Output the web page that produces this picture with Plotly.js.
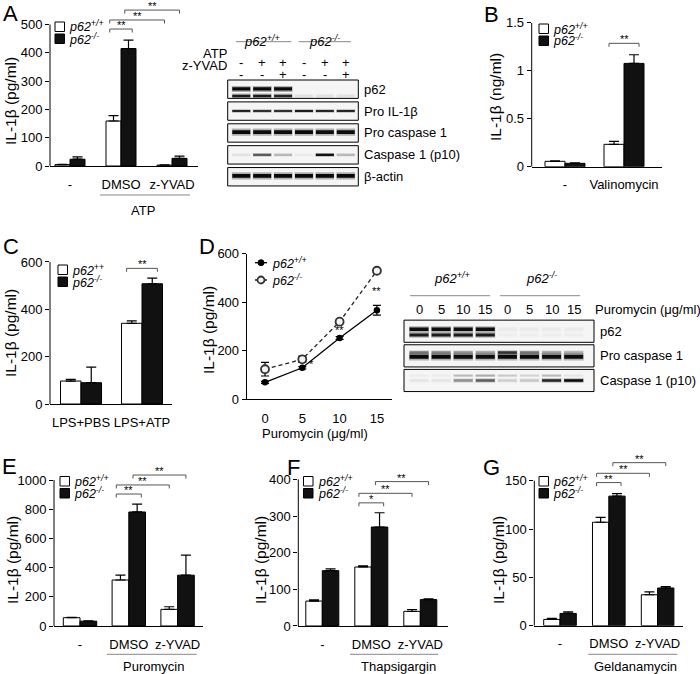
<!DOCTYPE html>
<html><head><meta charset="utf-8">
<script src="https://cdn.plot.ly/plotly-3.0.1.min.js"></script>
<style>html,body{margin:0;padding:0;background:#fff}</style>
</head><body><div id="chart" style="width:700px;height:674px"></div>
<script>
// ================= DATA =================
const wtName = 'p62<sup>+/+</sup>';
const koName = 'p62<sup>-/-</sup>';
const wtNameC = 'p62<sup>++</sup>';
const yTitle = 'IL-1β (pg/ml)';

// Panel A
const catsA = ['-', 'DMSO', 'z-YVAD'];
const wtA = [5, 159, 3];
const wtErrA = [1, 19, 1];
const koA = [24, 415, 27];
const koErrA = [8, 30, 8];
const ticksA = [0, 100, 200, 300, 400, 500];
const sigA = [[2, 3, 484, '**'], [2, 4, 516, '**'], [3, 5, 551, '**']];

// Panel B
const catsB = ['-', 'Valinomycin'];
const wtB = [0.056, 0.233];
const wtErrB = [0.006, 0.031];
const koB = [0.035, 1.076];
const koErrB = [0.004, 0.09];
const ticksB = [0, 0.5, 1, 1.5];
const sigB = [[2, 3, 1.285, '**']];

// Panel C
const catsC = ['LPS+PBS', 'LPS+ATP'];
const wtC = [97, 341];
const wtErrC = [7, 10];
const koC = [90, 508];
const koErrC = [66, 24];
const ticksC = [0, 200, 400, 600];
const sigC = [[2, 3, 573, '**']];

// Panel D (line chart)
const doseD = [0, 5, 10, 15];
const wtD = [70, 130, 253, 367];
const wtErrD = [4, 5, 6, 20];
const koD = [124, 165, 320, 530];
const koErrD = [28, 13, 6, 5];
const sigD = ['', '*', '**', '**'];
const ticksDy = [0, 200, 400, 600];

// Panel E
const catsE = ['-', 'DMSO', 'z-YVAD'];
const wtE = [57, 315, 114];
const wtErrE = [3, 33, 18];
const koE = [33, 781, 348];
const koErrE = [3, 54, 137];
const ticksE = [0, 200, 400, 600, 800, 1000];
const sigE = [[2, 3, 904, '**'], [2, 4, 966, '**'], [3, 5, 1034, '**']];

// Panel F
const catsF = ['-', 'DMSO', 'z-YVAD'];
const wtF = [68, 161, 40];
const wtErrF = [3, 3, 5];
const koF = [151, 270, 72];
const koErrF = [5, 39, 2];
const ticksF = [0, 100, 200, 300, 400];
const sigF = [[2, 3, 336, '*'], [2, 4, 362, '**'], [3, 5, 394, '**']];

// Panel G
const catsG = ['-', 'DMSO', 'z-YVAD'];
const wtG = [6.5, 107, 32];
const wtErrG = [1, 5, 3];
const koG = [12.7, 134, 39];
const koErrG = [1.5, 2.5, 1.5];
const ticksG = [0, 50, 100, 150];
const sigG = [[2, 3, 148, '**'], [2, 4, 157.6, '**'], [3, 5, 168.6, '**']];

// Western blot A (6 lanes)
const blotA_atp = ['-', '+', '+', '-', '+', '+'];
const blotA_zyvad = ['-', '-', '+', '-', '-', '+'];
const blotA_labels = ['p62', 'Pro IL-1β', 'Pro caspase 1', 'Caspase 1 (p10)', 'β-actin'];
const blotA_p62_upper = [0.95, 0.95, 0.95, 0, 0, 0];
const blotA_p62_lower = [0.85, 0.85, 0.8, 0.06, 0.06, 0.06];
const blotA_proIL1b = [0.8, 0.75, 0.75, 0.85, 0.8, 0.8];
const blotA_procasp1 = [0.95, 0.93, 0.93, 0.95, 0.93, 0.93];
const blotA_p10 = [0.06, 0.55, 0.2, 0.03, 0.9, 0.2];
const blotA_actin = [0.95, 0.95, 0.95, 0.95, 0.95, 0.95];

// Western blot D (8 lanes)
const blotD_dose = ['0', '5', '10', '15', '0', '5', '10', '15'];
const blotD_labels = ['p62', 'Pro caspase 1', 'Caspase 1 (p10)'];
const blotD_p62_upper = [0.92, 0.92, 0.92, 0.92, 0.03, 0.03, 0.03, 0.03];
const blotD_p62_lower = [0.85, 0.85, 0.85, 0.85, 0.02, 0.02, 0.02, 0.02];
const blotD_procasp_upper = [0.45, 0.4, 0.35, 0.3, 0.75, 0.45, 0.3, 0.25];
const blotD_procasp_lower = [0.95, 0.95, 0.93, 0.93, 0.95, 0.95, 0.93, 0.93];
const blotD_p10_upper = [0.03, 0.03, 0.2, 0.25, 0.15, 0.1, 0.2, 0.05];
const blotD_p10 = [0.05, 0.05, 0.35, 0.55, 0.12, 0.15, 0.8, 0.95];

// ================= BUILD =================
const W = 700, H = 674;
const px = v => v / W, py = v => 1 - v / H;
const FONT = '"Liberation Sans", Arial, Helvetica, sans-serif';
const data = [], shapes = [], annotations = [];
const layout = {
  width: W, height: H, margin: {l: 0, r: 0, t: 0, b: 0}, showlegend: false,
  barmode: 'overlay', paper_bgcolor: '#fff', plot_bgcolor: 'rgba(0,0,0,0)',
  font: {family: FONT, size: 13, color: '#000'}, shapes: shapes, annotations: annotations
};
const axId = n => (n === 1 ? '' : String(n));

function text(x, y, t, o) {
  o = o || {};
  annotations.push({
    xref: 'paper', yref: 'paper', x: px(x), y: py(y), text: t, showarrow: false,
    xanchor: o.xanchor || 'center', yanchor: o.yanchor || 'middle', textangle: o.angle || 0,
    font: {family: FONT, size: o.size || 13, color: '#000', weight: o.weight || 'normal', style: o.style || 'normal'}
  });
}
function pline(x0, y0, x1, y1, color, width, dash) {
  shapes.push({type: 'line', xref: 'paper', yref: 'paper', x0: px(x0), x1: px(x1), y0: py(y0), y1: py(y1),
    line: {color: color, width: width, dash: dash || 'solid'}});
}
function legendBars(x, y, gap) {
  const s = 9.5;
  shapes.push({type: 'rect', xref: 'paper', yref: 'paper', x0: px(x), x1: px(x + s), y0: py(y), y1: py(y + s),
    fillcolor: '#fff', line: {color: '#000', width: 1}});
  shapes.push({type: 'rect', xref: 'paper', yref: 'paper', x0: px(x), x1: px(x + s), y0: py(y + gap), y1: py(y + gap + s),
    fillcolor: '#111', line: {color: '#000', width: 1}});
}

function barPanel(p) {
  const s = axId(p.n), xa = 'x' + s, ya = 'y' + s;
  const idx = p.cats.map((_, i) => i);
  const bw = p.bw / p.sp;
  const yTopPx = p.y0 - p.yMax * p.ppu;
  layout['xaxis' + s] = {
    domain: [px(p.ax0), px(p.ax1)], range: [(p.ax0 - p.c0) / p.sp, (p.ax1 - p.c0) / p.sp], anchor: ya,
    showline: true, linecolor: '#000', linewidth: 1, tickvals: idx, ticktext: p.cats,
    ticks: 'outside', ticklen: 6, tickcolor: 'rgba(0,0,0,0)', showgrid: false, zeroline: false,
    tickfont: {size: 13, color: '#000'}, fixedrange: true
  };
  layout['yaxis' + s] = {
    domain: [py(p.y0), py(yTopPx)], range: [0, p.yMax], anchor: xa, showline: false,
    tickvals: p.ticks, ticks: 'outside', ticklen: 4, tickwidth: 1, tickcolor: '#000',
    showgrid: false, zeroline: false, tickfont: {size: 13, color: '#000'}, fixedrange: true
  };
  shapes.push({type: 'line', xref: xa + ' domain', yref: ya, x0: 0, x1: 0, y0: 0, y1: p.ticks[p.ticks.length - 1],
    line: {color: '#000', width: 1}});
  const zero = p.cats.map(() => 0);
  data.push({type: 'bar', x: idx, y: p.wt, xaxis: xa, yaxis: ya, width: bw, offset: -bw,
    marker: {color: '#fff', line: {color: '#000', width: 1}},
    error_y: {type: 'data', array: p.wtErr, arrayminus: zero, symmetric: false, color: '#000', thickness: 1.2, width: 5}});
  data.push({type: 'bar', x: idx, y: p.ko, xaxis: xa, yaxis: ya, width: bw, offset: 0,
    marker: {color: '#111', line: {color: '#000', width: 1}},
    error_y: {type: 'data', array: p.koErr, arrayminus: zero, symmetric: false, color: '#000', thickness: 1.2, width: 5}});
  const leg = 3.5 / p.ppu;
  const xc = i => Math.floor(i / 2) + (i % 2 ? bw / 2 : -bw / 2);
  p.sig.forEach(([a, b, h, lab]) => {
    const same = Math.floor(a / 2) === Math.floor(b / 2);
    const x1 = xc(a) - bw * 0.25, x2 = xc(b) + (same ? bw * 0.25 : 0);
    shapes.push({type: 'path', xref: xa, yref: ya,
      path: `M${x1},${h - leg} L${x1},${h} L${x2},${h} L${x2},${h - leg}`,
      line: {color: '#555', width: 1}});
    annotations.push({xref: xa, yref: ya, x: (x1 + x2) / 2, y: h, text: lab, showarrow: false,
      yanchor: 'bottom', yshift: -4, font: {size: 11, color: '#000'}});
  });
  const gap = 12;
  legendBars(p.lg[0], p.lg[1], gap);
  text(p.lg[0] + 12, p.lg[1] + 4.5, p.wtLabel || wtName, {xanchor: 'left', style: 'italic', size: 12.5});
  text(p.lg[0] + 12, p.lg[1] + gap + 4.5, koName, {xanchor: 'left', style: 'italic', size: 12.5});
  text(p.letter[1], p.letter[2], p.letter[0], {size: 22});
  text(p.yt[0], p.yt[1], p.ytitle, {angle: -90, size: 15.5});
  if (p.group) {
    pline(p.group.x0, p.group.y, p.group.x1, p.group.y, '#888', 1);
    text(p.group.tx, p.group.ty, p.group.text);
  }
}

barPanel({n: 1, cats: catsA, wt: wtA, wtErr: wtErrA, ko: koA, koErr: koErrA, ticks: ticksA, sig: sigA,
  ax0: 50, ax1: 198, c0: 70, sp: 51, bw: 15, y0: 166, ppu: 0.283, yMax: 570,
  lg: [55, 22], letter: ['A', 10, 13], yt: [10, 101], ytitle: yTitle,
  group: {x0: 100, x1: 190, y: 195, text: 'ATP', tx: 143, ty: 210}});
barPanel({n: 2, cats: catsB, wt: wtB, wtErr: wtErrB, ko: koB, koErr: koErrB, ticks: ticksB, sig: sigB,
  ax0: 531.7, ax1: 661.7, c0: 565, sp: 59, bw: 20, y0: 166.7, ppu: 96, yMax: 1.5,
  lg: [539, 24], letter: ['B', 491, 14], yt: [495, 97], ytitle: 'IL-1β (ng/ml)'});
barPanel({n: 3, cats: catsC, wt: wtC, wtErr: wtErrC, ko: koC, koErr: koErrC, ticks: ticksC, sig: sigC,
  ax0: 50, ax1: 172, c0: 81, sp: 61, bw: 20.5, y0: 404, ppu: 0.2367, yMax: 600,
  lg: [58, 265], wtLabel: wtNameC, letter: ['C', 11, 246], yt: [10, 333], ytitle: yTitle});
barPanel({n: 5, cats: catsE, wt: wtE, wtErr: wtErrE, ko: koE, koErr: koErrE, ticks: ticksE, sig: sigE,
  ax0: 54, ax1: 203, c0: 80, sp: 48.8, bw: 16.7, y0: 626, ppu: 0.146, yMax: 1060,
  lg: [60, 476.5], letter: ['E', 9, 466], yt: [12, 560], ytitle: yTitle,
  group: {x0: 106.7, x1: 196.7, y: 654.3, text: 'Puromycin', tx: 153, ty: 666.7}});
barPanel({n: 6, cats: catsF, wt: wtF, wtErr: wtErrF, ko: koF, koErr: koErrF, ticks: ticksF, sig: sigF,
  ax0: 298.3, ax1: 448.3, c0: 322.3, sp: 49, bw: 16.5, y0: 626, ppu: 0.3665, yMax: 410,
  lg: [303.5, 476.5], letter: ['F', 293, 467], yt: [260, 560], ytitle: yTitle,
  group: {x0: 350, x1: 438.3, y: 654.3, text: 'Thapsigargin', tx: 398.5, ty: 666.7}});
barPanel({n: 7, cats: catsG, wt: wtG, wtErr: wtErrG, ko: koG, koErr: koErrG, ticks: ticksG, sig: sigG,
  ax0: 534.3, ax1: 683.3, c0: 560, sp: 48.8, bw: 16.3, y0: 625.7, ppu: 0.967, yMax: 175,
  lg: [539, 476.5], letter: ['G', 491, 467], yt: [498, 560], ytitle: yTitle,
  group: {x0: 588.3, x1: 677.3, y: 654.3, text: 'Geldanamycin', tx: 635.7, ty: 666.7}});

// ---------- Panel D line chart ----------
(function () {
  const xa = 'x4', ya = 'y4';
  const ax0 = 246.7, ax1 = 392, c0 = 265, ppx = 7.46, y0 = 399.3, ppu = 0.2425;
  layout.xaxis4 = {domain: [px(ax0), px(ax1)], range: [(ax0 - c0) / ppx, (ax1 - c0) / ppx], anchor: ya,
    showline: true, linecolor: '#000', linewidth: 1, tickvals: doseD, ticks: 'outside', ticklen: 7,
    tickcolor: 'rgba(0,0,0,0)', showgrid: false, zeroline: false, tickfont: {size: 13, color: '#000'}, fixedrange: true};
  layout.yaxis4 = {domain: [py(y0), py(y0 - 600 * ppu)], range: [0, 600], anchor: xa, showline: true, linecolor: '#000',
    linewidth: 1, tickvals: ticksDy, ticks: 'outside', ticklen: 4, tickcolor: '#000', showgrid: false, zeroline: false,
    tickfont: {size: 13, color: '#000'}, fixedrange: true};
  data.push({type: 'scatter', mode: 'lines+markers', x: doseD, y: koD, xaxis: xa, yaxis: ya, cliponaxis: false,
    line: {color: '#222', width: 1.3, dash: '4px,3px'},
    marker: {symbol: 'circle', size: 8, color: '#f4f4f4', line: {color: '#333', width: 1.8}},
    error_y: {type: 'data', array: koErrD, color: '#000', thickness: 1.2, width: 4}});
  data.push({type: 'scatter', mode: 'lines+markers', x: doseD, y: wtD, xaxis: xa, yaxis: ya, cliponaxis: false,
    line: {color: '#000', width: 1.3},
    marker: {symbol: 'circle', size: 6.5, color: '#000'},
    error_y: {type: 'data', array: wtErrD, color: '#000', thickness: 1.2, width: 4}});
  const sx = [0, 9, 0, 0];
  sigD.forEach((lab, i) => {
    if (!lab) return;
    annotations.push({xref: xa, yref: ya, x: doseD[i], y: (wtD[i] + koD[i]) / 2, xshift: sx[i], text: lab,
      showarrow: false, font: {size: 11, color: '#000'}});
  });
  // legend
  pline(255, 262.7, 267, 262.7, '#000', 1.3);
  shapes.push({type: 'circle', xref: 'paper', yref: 'paper', x0: px(258), x1: px(264), y0: py(259.7), y1: py(265.7),
    fillcolor: '#000', line: {color: '#000', width: 1}});
  pline(255, 280, 267, 280, '#222', 1.3, '3px,2px');
  shapes.push({type: 'circle', xref: 'paper', yref: 'paper', x0: px(257.5), x1: px(264.5), y0: py(276.5), y1: py(283.5),
    fillcolor: '#f4f4f4', line: {color: '#333', width: 1.8}});
  text(270, 262.7, wtName, {xanchor: 'left', style: 'italic', size: 12.5});
  text(270, 280, koName, {xanchor: 'left', style: 'italic', size: 12.5});
  text(207, 246, 'D', {size: 22});
  text(209, 330, yTitle, {angle: -90, size: 15.5});
  text(315, 433, 'Puromycin (μg/ml)');
})();

// ---------- Western blots ----------
function blot(p) {
  const s = axId(p.n), xa = 'x' + s, ya = 'y' + s;
  layout['xaxis' + s] = {domain: [px(p.bx0), px(p.bx1)], range: [-p.lpad, p.lanes - 1 + p.rpad], visible: false,
    anchor: ya, fixedrange: true};
  layout['yaxis' + s] = {domain: [py(p.by1), py(p.by0)], range: [p.rows.length - 0.5, -0.5], visible: false,
    anchor: xa, fixedrange: true};
  p.rows.forEach((row, r) => {
    shapes.push({type: 'rect', xref: xa + ' domain', yref: ya, x0: 0, x1: 1, y0: r - p.hh, y1: r + p.hh,
      fillcolor: '#f5f5f5', line: {color: '#000', width: 1}, layer: 'above'});
    row.bands.forEach(b => b.v.forEach((v, i) => {
      if (v <= 0) return;
      shapes.push({type: 'rect', xref: xa, yref: ya, x0: i - p.bwid - 0.02, x1: i + p.bwid + 0.02,
        y0: r + b.dy - b.h * 0.9, y1: r + b.dy + b.h * 0.9, fillcolor: `rgba(0,0,0,${(v * 0.3).toFixed(3)})`,
        line: {width: 0}, layer: 'above'});
      shapes.push({type: 'rect', xref: xa, yref: ya, x0: i - p.bwid, x1: i + p.bwid,
        y0: r + b.dy - b.h / 2, y1: r + b.dy + b.h / 2, fillcolor: `rgba(0,0,0,${v.toFixed(3)})`,
        line: {width: 0}, layer: 'above'});
    }));
    annotations.push({xref: 'paper', yref: ya, x: px(p.labelX), y: r, text: row.label, showarrow: false,
      xanchor: 'left', font: {size: 13, color: '#000'}});
  });
  p.header.forEach(h => {
    h.items.forEach((t, i) => annotations.push({xref: xa, yref: 'paper', x: i, y: py(h.y), text: t,
      showarrow: false, font: {size: 13, color: '#000'}}));
  });
  p.groups.forEach(g => {
    shapes.push({type: 'line', xref: xa, yref: 'paper', x0: g.l0, x1: g.l1, y0: py(g.ly), y1: py(g.ly),
      line: {color: '#888', width: 1}});
    annotations.push({xref: xa, yref: 'paper', x: g.tx, y: py(g.ty), text: g.text, showarrow: false,
      font: {size: 13, color: '#000', style: 'italic'}});
  });
}

blot({n: 8, lanes: 6, bx0: 227.7, bx1: 358.3, lpad: 0.65, rpad: 0.6, by0: 78.25, by1: 187.7, hh: 0.42,
  bwid: 0.43, labelX: 362,
  rows: [
    {label: blotA_labels[0], bands: [{dy: -0.01, h: 0.15, v: blotA_p62_upper}, {dy: 0.31, h: 0.12, v: blotA_p62_lower}]},
    {label: blotA_labels[1], bands: [{dy: 0, h: 0.09, v: blotA_proIL1b}]},
    {label: blotA_labels[2], bands: [{dy: -0.04, h: 0.18, v: blotA_procasp1}]},
    {label: blotA_labels[3], bands: [{dy: 0, h: 0.1, v: blotA_p10}]},
    {label: blotA_labels[4], bands: [{dy: -0.04, h: 0.18, v: blotA_actin}]}
  ],
  header: [{y: 53, items: blotA_atp}, {y: 65, items: blotA_zyvad}],
  groups: [{text: wtName, tx: 1, ty: 31, l0: -0.25, l1: 2.4, ly: 41.7},
           {text: koName, tx: 4, ty: 31, l0: 2.75, l1: 5.25, ly: 41.7}]});
text(229, 53, 'ATP', {xanchor: 'right'});
text(229, 65, 'z-YVAD', {xanchor: 'right'});

blot({n: 9, lanes: 8, bx0: 404, bx1: 594, lpad: 0.68, rpad: 0.92, by0: 318.9, by1: 392.8, hh: 0.45,
  bwid: 0.43, labelX: 598,
  rows: [
    {label: blotD_labels[0], bands: [{dy: -0.077, h: 0.14, v: blotD_p62_upper}, {dy: 0.154, h: 0.12, v: blotD_p62_lower}]},
    {label: blotD_labels[1], bands: [{dy: -0.14, h: 0.1, v: blotD_procasp_upper}, {dy: 0.04, h: 0.16, v: blotD_procasp_lower}]},
    {label: blotD_labels[2], bands: [{dy: -0.2, h: 0.07, v: blotD_p10_upper}, {dy: 0, h: 0.1, v: blotD_p10}]}
  ],
  header: [{y: 309, items: blotD_dose}],
  groups: [{text: wtName, tx: 1.5, ty: 278.3, l0: -0.41, l1: 3.21, ly: 295.7},
           {text: koName, tx: 5.55, ty: 278.3, l0: 3.67, l1: 7.29, ly: 295.7}]});
text(593, 309, 'Puromycin (μg/ml)', {xanchor: 'left'});

Plotly.newPlot('chart', data, layout, {displayModeBar: false, staticPlot: true});
</script></body></html>
